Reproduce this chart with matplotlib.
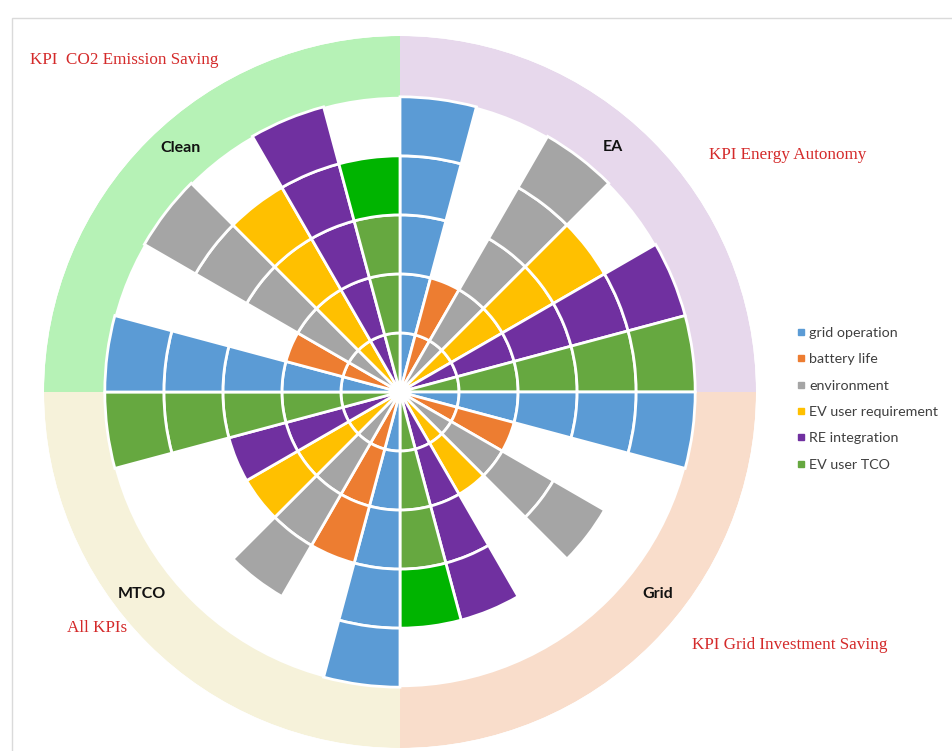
import numpy as np
import matplotlib
matplotlib.use("Agg")
import matplotlib.pyplot as plt
from matplotlib.lines import Line2D
from matplotlib.patches import Rectangle

# Indicators (one wedge per indicator inside every scenario quadrant)
indicators = ["grid operation", "battery life", "environment",
              "EV user requirement", "RE integration", "EV user TCO"]
indicator_colors = ["#5B9BD5", "#ED7D31", "#A5A5A5", "#FFC000", "#7030A0", "#66A840"]
highlight_green = "#00B400"

# Scenarios, clockwise from 12 o'clock
scenarios = ["EA", "Grid", "MTCO", "Clean"]
kpi_titles = ["KPI Energy Autonomy", "KPI Grid Investment Saving",
              "All KPIs", "KPI  CO2 Emission Saving"]
ring_colors = ["#E7D8EC", "#F9DDCB", "#F6F2DA", "#B6F2B6"]

# Scores (number of stacked rings) per scenario, in indicator order
ea_scores    = [5, 2, 5, 4, 5, 5]
grid_scores  = [5, 2, 4, 2, 4, 4]
mtco_scores  = [5, 3, 4, 3, 3, 5]
clean_scores = [5, 2, 5, 4, 5, 4]
scores = [ea_scores, grid_scores, mtco_scores, clean_scores]

# Quadrants whose outermost EV user TCO ring is highlighted
highlight_scenarios = ["Grid", "Clean"]

fig = plt.figure(figsize=(9.52, 7.51), dpi=100)
fig.patch.set_facecolor("white")

# thin frame around the chart area
fig.patches.append(Rectangle((12 / 952, -0.1), 1.1, 1 - 18 / 751 + 0.1,
                             transform=fig.transFigure, fill=False,
                             edgecolor="#DADADA", linewidth=1.0))

cx, cy, R = 400, 392, 356
W, H = 952, 751
ax = fig.add_axes([(cx - R) / W, (H - cy - R) / H, 2 * R / W, 2 * R / H],
                  projection="polar")
ax.set_theta_zero_location("N")
ax.set_theta_direction(-1)
rmax = 6.03
ax.set_ylim(0, rmax)
ax.set_axis_off()

nq = len(scenarios)
ni = len(indicators)
wedge = 2 * np.pi / (nq * ni)

# outer coloured ring for every scenario quadrant
for q in range(nq):
    ax.bar((q + 0.5) * np.pi / 2, rmax - 5.0, width=np.pi / 2, bottom=5.0,
           color=ring_colors[q], edgecolor="none", linewidth=0, zorder=1)

# stacked rings for each indicator
for q, name in enumerate(scenarios):
    for idx in range(ni):
        theta = q * np.pi / 2 + (idx + 0.5) * wedge
        n = scores[q][idx]
        for k in range(n):
            col = indicator_colors[idx]
            if idx == 5 and name in highlight_scenarios and k == n - 1:
                col = highlight_green
            ax.bar(theta, 1.0, width=wedge, bottom=k, color=col,
                   edgecolor="white", linewidth=2.0, zorder=2)

# white hub at the centre
ax.bar(0, 0.14, width=2 * np.pi, bottom=0, color="white",
       edgecolor="none", zorder=3)

# scenario names on the ring
label_theta = [np.deg2rad(41), np.deg2rad(128), np.deg2rad(232), np.deg2rad(318)]
label_r = [5.5, 5.55, 5.55, 5.55]
for q, name in enumerate(scenarios):
    ax.text(label_theta[q], label_r[q], name, ha="center", va="center",
            fontsize=11.5, fontweight="bold", family="Lato", color="#111111",
            zorder=4)

# KPI captions
kpi_pos = [(709, 155), (692, 645), (67, 628), (30, 60)]
for (x, y), t in zip(kpi_pos, kpi_titles):
    fig.text(x / W, 1 - y / H, t, ha="left", va="center",
             fontsize=12.3, family="Liberation Serif", color="#D42A2A")

# legend
handles = [Line2D([], [], marker="s", linestyle="none", markersize=4.5,
                  markerfacecolor=c, markeredgecolor=c)
           for c in indicator_colors]
leg = fig.legend(handles, indicators, loc="upper left",
                 bbox_to_anchor=(790 / W, 1 - 320 / H), frameon=False,
                 prop={"family": "Lato", "size": 10.3},
                 handlelength=0.5, handletextpad=0.35, labelspacing=1.0,
                 borderpad=0)
for t in leg.get_texts():
    t.set_color("#404040")

fig.savefig("out.png", dpi=100, facecolor="white")
